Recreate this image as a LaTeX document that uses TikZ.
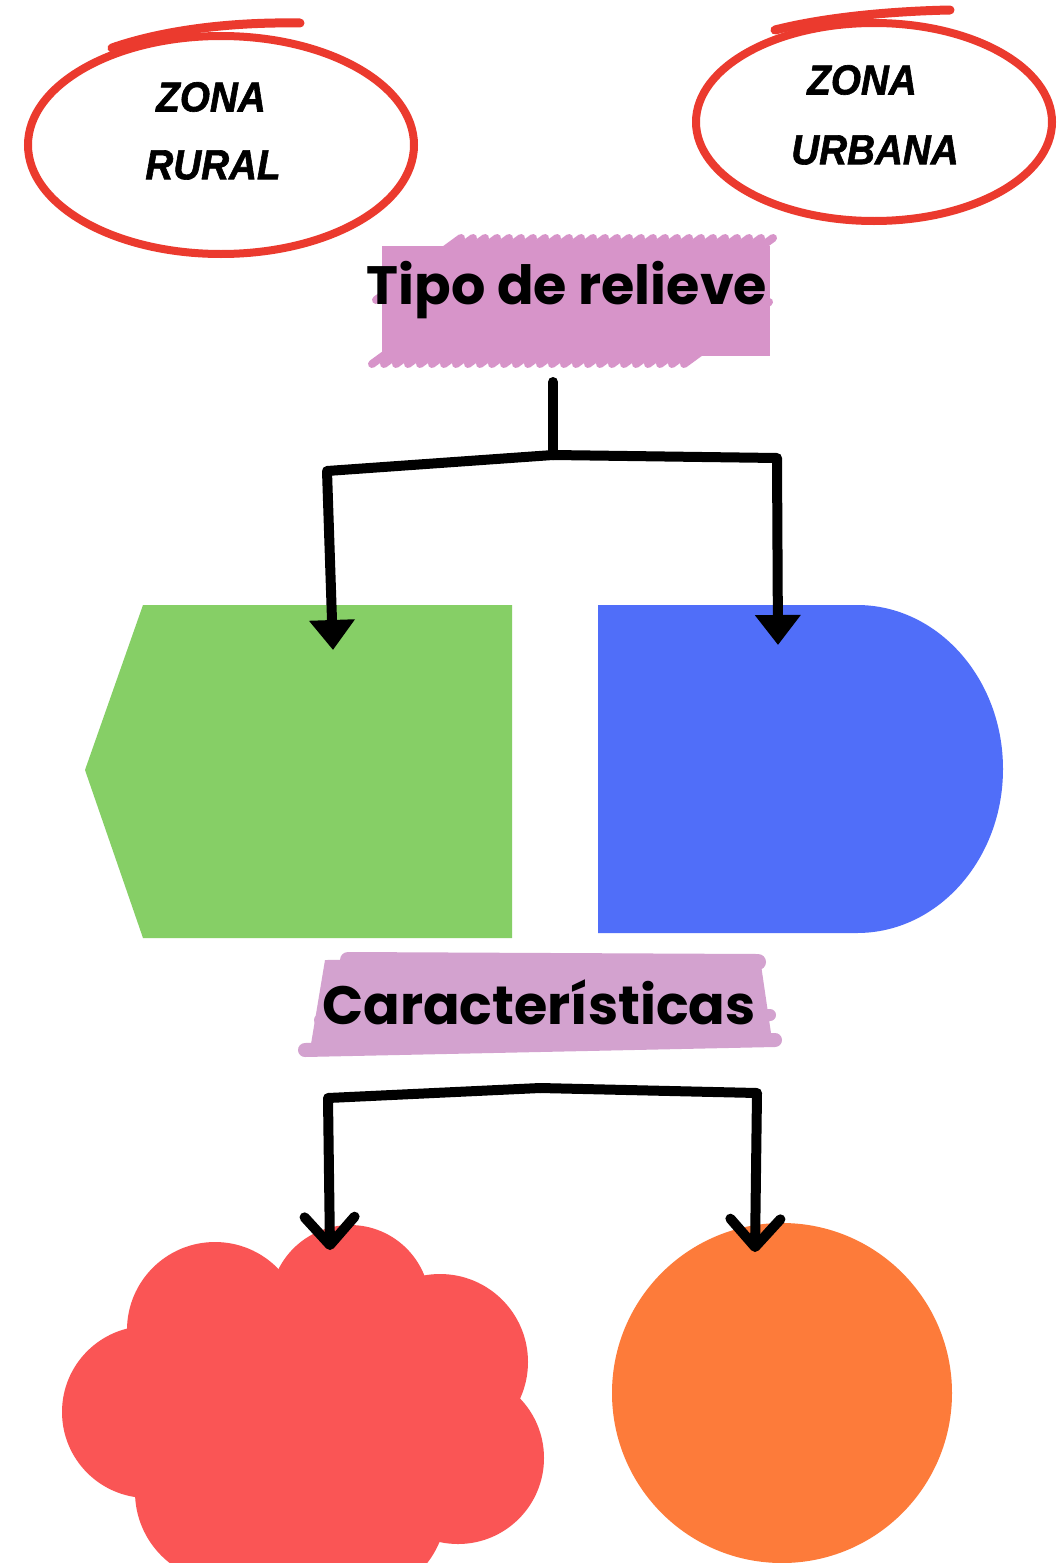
\documentclass[tikz,border=0pt]{standalone}
\usepackage{fontspec}
\setmainfont{Liberation Sans}
\newfontfamily\zonafont[FakeBold=1.5]{Liberation Sans Bold Italic}
\newfontfamily\handfont{Poppins}
\usetikzlibrary{arrows.meta}
\definecolor{ringred}{HTML}{EB3A2E}
\definecolor{pinkA}{HTML}{D794C9}
\definecolor{pinkB}{HTML}{D3A2CF}
\definecolor{leafgreen}{HTML}{86CF66}
\definecolor{royal}{HTML}{506EF9}
\definecolor{cloudred}{HTML}{FA5555}
\definecolor{orangeball}{HTML}{FD7B3A}
\tikzset{
  ring/.style={draw=ringred, line width=8pt},
  flourish/.style={draw=ringred, line width=9pt, line cap=round},
  zonatext/.style={font=\zonafont\fontsize{42}{50}\selectfont, inner sep=0pt, xscale=0.92},
  headtext/.style={font=\handfont\fontsize{54}{60}\selectfont\bfseries, inner sep=0pt},
  scribble/.style={pinkA, line width=8pt, line cap=round},
  link/.style={line width=10pt, line join=round, line cap=round},
  solidtip/.style={link, -{Triangle[width=44pt,length=30pt]}},
  opentip/.style={link, -{Straight Barb[width=50pt,length=28pt,round]}},
}
\begin{document}
\begin{tikzpicture}[x=1pt,y=-1pt]
\useasboundingbox (0,0) rectangle (1057,1563);
\fill[white] (0,0) rectangle (1057,1563);

% rings
\draw[ring] (221,145) ellipse [x radius=193, y radius=109];
\draw[flourish] (112,48) .. controls (170,28) and (240,22) .. (300,23);
\node[zonatext] (zr1) at (211,97) {ZONA};
\node[zonatext] (zr2) at (213,165) {RURAL};

\draw[ring] (874,122) ellipse [x radius=178, y radius=99];
\draw[flourish] (775,30) .. controls (830,16) and (900,11) .. (950,10);
\node[zonatext] (zu1) at (862,80) {ZONA};
\node[zonatext] (zu2) at (875,150) {URBANA};

% Tipo de relieve scribble box
\fill[pinkA] (382,246) rectangle (770,356);
\foreach \x in {372,384,...,684}{
  \draw[scribble] (\x,364) -- (\x+85,302);
  \draw[scribble] (\x+4,300) -- (\x+89,238);
}
\node[headtext] (tipo) at (567,290) {Tipo de relieve};

% shapes
\fill[leafgreen] (143,605) -- (512,605) -- (512,938) -- (143,938) -- (85,770) -- cycle;
\fill[royal] (598,605) -- (857,605) arc[start angle=-90, end angle=90, x radius=146, y radius=164] -- (598,933) -- cycle;
\coordinate (greenin) at (333,650);
\coordinate (bluein) at (778,645);

% connector 1
\coordinate (tipoout) at (553,382);
\coordinate (j1) at (553,455);
\coordinate (l1) at (327,471);
\coordinate (r1) at (777,458);
\draw[link] (tipoout) -- (j1);
\draw[solidtip] (j1) -- (l1) -- (greenin);
\draw[solidtip] (j1) -- (r1) -- (bluein);

% Caracteristicas brush box
\fill[pinkB] (325,960) -- (760,958) -- (772,1040) -- (310,1050) -- cycle;
\draw[pinkB, line width=16pt, line cap=round] (348,960) -- (758,962);
\draw[pinkB, line width=14pt, line cap=round] (305,1050) -- (775,1040);
\draw[pinkB, line width=12pt, line cap=round] (320,1020) -- (770,1015);
\node[headtext] (carac) at (539,1002) {Características};

% connector 2
\coordinate (l2) at (328,1098);
\coordinate (m2) at (540,1088);
\coordinate (r2) at (757,1093);
\coordinate (cloudin) at (330,1250);
\coordinate (ballin) at (755,1252);

% cloud
\begin{scope}[cloudred]
\fill (350,1305) circle (80);
\fill (215,1330) circle (88);
\fill (148,1412) circle (86);
\fill (440,1362) circle (88);
\fill (458,1458) circle (86);
\fill (225,1492) circle (90);
\fill (352,1505) circle (95);
\fill (150,1320) rectangle (470,1540);
\end{scope}
\node[circle, fill=orangeball, minimum size=340pt, inner sep=0pt] (ball) at (782,1393) {};

\draw[opentip] (m2) -- (l2) -- (cloudin);
\draw[opentip] (m2) -- (r2) -- (ballin);
\end{tikzpicture}
\end{document}
